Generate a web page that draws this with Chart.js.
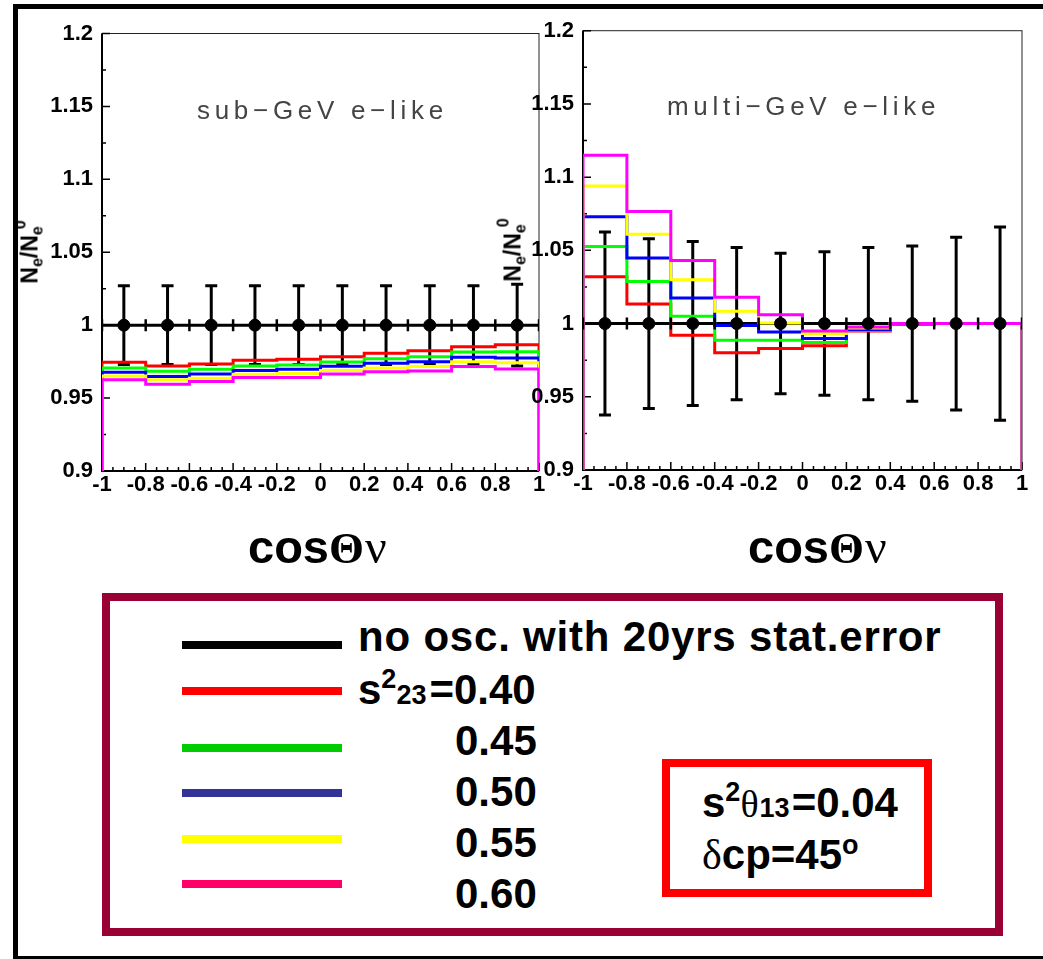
<!DOCTYPE html>
<html lang="en">
<head>
<meta charset="utf-8">
<title>Ne/Ne0 vs cosΘν</title>
<script src="https://cdn.jsdelivr.net/npm/chart.js@4.4.1/dist/chart.umd.min.js"></script>
<style>
  html, body { margin: 0; padding: 0; background: #fff; }
  body { position: relative; width: 1043px; height: 959px; overflow: hidden; font-family: "Liberation Sans", Arial, sans-serif; color: #000; }
  #outer { position: absolute; left: 13px; top: 4px; width: 1035px; height: 957px; border: 5px solid #000; box-sizing: border-box; }
  canvas { position: absolute; top: 0; }
  #cSub { left: 0; }
  #cMulti { left: 480px; }

  .ptitle { position: absolute; font-size: 26px; line-height: 26px; letter-spacing: 4.7px; color: #444; white-space: nowrap; }
  .ytitle { position: absolute; font-weight: bold; font-size: 23px; line-height: 23px; white-space: nowrap; transform: translate(-50%, -50%) rotate(-90deg); }
  .ytitle .lo { font-size: 16px; line-height: 0; position: relative; top: 5px; }
  .ytitle .hi { font-size: 16px; line-height: 0; position: relative; top: -12px; margin-left: -3px; }
  .xtitle { position: absolute; font-weight: bold; font-size: 47px; line-height: 47px; white-space: nowrap; }
  .xtitle .gr { font-family: "Liberation Serif", serif; font-size: 45px; line-height: 0; }
  .xtitle .nu { font-family: "Liberation Serif", serif; font-weight: normal; font-size: 48px; line-height: 0; margin-left: 1px; }

  #legend { position: absolute; left: 102px; top: 593px; width: 901px; height: 343px; border: 8px solid #990033; box-sizing: border-box; }
  #parbox { position: absolute; left: 662px; top: 759px; width: 270px; height: 138px; border: 8px solid #ff0000; box-sizing: border-box; }
  .swatch { position: absolute; left: 182px; width: 160px; height: 8px; }
  .lt { position: absolute; font-weight: bold; font-size: 42px; line-height: 42px; white-space: nowrap; }
  .lt .sm { font-size: 27px; line-height: 0; position: relative; }
  .lt .gr { font-family: "Liberation Serif", serif; font-weight: normal; line-height: 0; }
</style>
</head>
<body>
<div id="outer"></div>

<canvas id="cSub" width="560" height="530"></canvas>
<canvas id="cMulti" width="563" height="530"></canvas>

<div class="ptitle" style="left:197px; top:97px;">sub−GeV e−like</div>
<div class="ptitle" style="left:667px; top:93px;">multi−GeV e−like</div>

<div class="ytitle" style="left:30px; top:252px;">N<span class="lo">e</span>/N<span class="lo">e</span><span class="hi">0</span></div>
<div class="ytitle" style="left:513px; top:250px;">N<span class="lo">e</span>/N<span class="lo">e</span><span class="hi">0</span></div>

<div class="xtitle" style="left:248px; top:523px;">cos<span class="gr">Θ</span><span class="nu">ν</span></div>
<div class="xtitle" style="left:748px; top:523px;">cos<span class="gr">Θ</span><span class="nu">ν</span></div>

<div id="legend"></div>
<div id="parbox"></div>
<div id="legendRows"></div>
<div class="lt" style="left:702px; top:782px;">s<span class="sm" style="top:-16px">2</span><span class="gr" style="font-size:38px">θ</span><span class="sm" style="margin-left:1px">13</span><span style="margin-left:2px">=0.04</span></div>
<div class="lt" style="left:702px; top:834px;"><span class="gr" style="font-size:42px">δ</span>cp=45<span class="sm" style="top:-15px">o</span></div>

<script>
// bins in cosΘν
const binEdges   = [-1, -0.8, -0.6, -0.4, -0.2, 0, 0.2, 0.4, 0.6, 0.8, 1];
const binCenters = [-0.9, -0.7, -0.5, -0.3, -0.1, 0.1, 0.3, 0.5, 0.7, 0.9];
const yMin = 0.9, yMax = 1.2;

// no oscillation reference (ratio = 1 in every bin)
const noOscRatio = [1, 1, 1, 1, 1, 1, 1, 1, 1, 1];

// s^2_23 values and their colours (plot / legend swatch)
const s23Values    = ["0.40", "0.45", "0.50", "0.55", "0.60"];
const histColors   = ["#ff0000", "#00ff00", "#0000ff", "#ffff00", "#ff00ff"];
const swatchColors = ["#ff0000", "#00cc00", "#333399", "#ffff00", "#ff0066"];

// sub-GeV e-like
const subErr  = [0.027, 0.027, 0.027, 0.027, 0.027, 0.027, 0.027, 0.027, 0.027, 0.028];
const sub040  = [0.9745, 0.972, 0.9734, 0.976, 0.9766, 0.9784, 0.9807, 0.9825, 0.9852, 0.9866];
const sub045  = [0.9707, 0.9684, 0.9698, 0.972, 0.9727, 0.9748, 0.977, 0.9784, 0.9816, 0.9818];
const sub050  = [0.9677, 0.9648, 0.9666, 0.969, 0.9698, 0.9718, 0.9739, 0.975, 0.978, 0.9775];
const sub055  = [0.9652, 0.9625, 0.9636, 0.9664, 0.9668, 0.9689, 0.9707, 0.9716, 0.975, 0.9743];
const sub060  = [0.9625, 0.9595, 0.9614, 0.9641, 0.9641, 0.9666, 0.968, 0.9686, 0.9716, 0.970];

// multi-GeV e-like
const multiErr = [0.0625, 0.058, 0.056, 0.052, 0.048, 0.049, 0.052, 0.053, 0.059, 0.066];
const multi040 = [1.032, 1.0134, 0.992, 0.980, 0.983, 0.9848, 0.995, 0.9995, 1.0, 1.0];
const multi045 = [1.0527, 1.0288, 1.005, 0.9886, 0.9886, 0.987, 0.9955, 0.9996, 1.0, 1.0];
const multi050 = [1.073, 1.0447, 1.0175, 0.9986, 0.9943, 0.9898, 0.996, 0.9998, 1.0, 1.0];
const multi055 = [1.094, 1.061, 1.030, 1.0084, 1.0004, 0.9932, 0.997, 1.0, 1.0, 1.0];
const multi060 = [1.115, 1.0766, 1.043, 1.018, 1.006, 0.995, 0.9977, 1.0, 1.0, 1.0];

const yTickStep = 0.05, yMinorStep = 0.025;
const xTickStep = 0.2,  xMinorStep = 0.05;

Chart.defaults.font.family = "Liberation Sans";
Chart.defaults.color = '#000';

/* ---- legend rows (html) ---- */
(function buildLegend(){
  const rows = document.getElementById("legendRows");
  const swatchY = [641, 687, 743.5, 789, 834.5, 879.5];
  const textTop = [615.5, 668.5, 719.5, 770.5, 821.5, 872.5];
  let html = `<div class="swatch" style="top:${swatchY[0]}px;background:#000"></div>`;
  html += `<div class="lt" style="left:358px;top:${textTop[0]}px;letter-spacing:0.8px">no osc. with 20yrs stat.error</div>`;
  s23Values.forEach((v, i) => {
    html += `<div class="swatch" style="top:${swatchY[i+1]}px;background:${swatchColors[i]}"></div>`;
    if (i === 0) {
      html += `<div class="lt" style="left:358px;top:${textTop[1]}px">s<span class="sm" style="top:-16px">2</span><span class="sm">23</span><span style="margin-left:3px">=${v}</span></div>`;
    } else {
      html += `<div class="lt" style="left:455px;top:${textTop[i+1]}px">${v}</div>`;
    }
  });
  rows.innerHTML = html;
})();

// histogram outline: up from the axis minimum, steps across the bins, back down
function stepData(values){
  const last = binEdges.length - 1;
  const pts = [{x: binEdges[0], y: yMin}];
  values.forEach((v, i) => pts.push({x: binEdges[i], y: v}));
  pts.push({x: binEdges[last], y: values[values.length - 1]});
  pts.push({x: binEdges[last], y: yMin});
  return pts;
}

function refLine(values){
  const last = binEdges.length - 1;
  const pts = values.map((v, i) => ({x: binEdges[i], y: v}));
  pts.push({x: binEdges[last], y: values[values.length - 1]});
  return pts;
}

function errorData(values, errs){
  const pts = [];
  binCenters.forEach((c, i) => {
    pts.push({x: c, y: values[i] - errs[i]}, {x: c, y: values[i] + errs[i]}, {x: c, y: null});
  });
  return pts;
}

const fmtTick = v => String(Number(Number(v).toFixed(2)));

// axes + frame with inward ticks, drawn under the datasets
const rootFrame = {
  id: "rootFrame",
  beforeDatasetsDraw(chart){
    const {ctx, chartArea: a, scales: {x, y}} = chart;
    ctx.save();
    ctx.strokeStyle = "#222";
    ctx.lineWidth = 1;
    ctx.strokeRect(a.left, a.top, a.right - a.left, a.bottom - a.top);
    ctx.strokeStyle = "#000";
    ctx.lineWidth = 2;
    ctx.beginPath();
    ctx.moveTo(a.left, a.top); ctx.lineTo(a.left, a.bottom); ctx.lineTo(a.right, a.bottom);
    ctx.stroke();

    ctx.lineWidth = 1.5;
    ctx.beginPath();
    const nx = Math.round((x.max - x.min) / xMinorStep);
    const perX = Math.round(xTickStep / xMinorStep);
    for (let k = 0; k <= nx; k++){
      const px = x.getPixelForValue(x.min + k * xMinorStep);
      const len = k % perX === 0 ? 8 : 4;
      ctx.moveTo(px, a.bottom); ctx.lineTo(px, a.bottom - len);
    }
    const ny = Math.round((y.max - y.min) / yMinorStep);
    const perY = Math.round(yTickStep / yMinorStep);
    for (let k = 0; k <= ny; k++){
      const py = y.getPixelForValue(y.min + k * yMinorStep);
      const len = k % perY === 0 ? 8 : 4;
      ctx.moveTo(a.left, py); ctx.lineTo(a.left + len, py);
    }
    ctx.stroke();
    ctx.restore();
  }
};

function makePanel(canvasId, hists, errs, geom){
  const histSets = hists.map((vals, i) => ({
    data: stepData(vals),
    showLine: true, stepped: true,
    borderColor: histColors[i], borderWidth: 3,
    pointRadius: 0, fill: false,
  })).reverse(); // magenta ends up on top

  const datasets = [
    { // bin-edge ticks on the reference line
      data: binEdges.map((e, i) => ({x: e, y: noOscRatio[Math.min(i, noOscRatio.length - 1)]})),
      showLine: false, pointStyle: "line", pointRotation: 90,
      pointRadius: 6, pointBorderWidth: 2.5, pointBorderColor: "#000",
    },
    { // no-osc markers
      data: binCenters.map((c, i) => ({x: c, y: noOscRatio[i]})),
      showLine: false, pointStyle: "circle",
      pointRadius: 6, pointBackgroundColor: "#000", pointBorderColor: "#000", pointBorderWidth: 1,
    },
    ...histSets,
    { // no-osc histogram line
      data: refLine(noOscRatio),
      showLine: true, stepped: true, borderColor: "#000", borderWidth: 3, pointRadius: 0,
    },
    { // 20 yr statistical errors
      data: errorData(noOscRatio, errs),
      showLine: true, spanGaps: false, borderColor: "#000", borderWidth: 3,
      pointStyle: "line", pointRadius: 6, pointBorderWidth: 3, pointBorderColor: "#000",
    },
  ];

  const tickFont = {family: "Liberation Sans", size: 22, weight: 700, style: "normal"};
  return new Chart(document.getElementById(canvasId), {
    type: "scatter",
    data: {datasets},
    options: {
      responsive: false, animation: false, events: [],
      layout: {padding: {left: 0, top: geom.top, right: geom.right, bottom: 0}},
      plugins: {legend: {display: false}, tooltip: {enabled: false}},
      scales: {
        x: {
          type: "linear", min: -1, max: 1,
          grid: {display: false, drawTicks: false}, border: {display: false},
          ticks: {stepSize: xTickStep, autoSkip: false, maxRotation: 0, padding: 1, font: tickFont, color: "#000", callback: fmtTick},
          afterFit: s => { s.height = geom.xAxisH; },
        },
        y: {
          type: "linear", min: yMin, max: yMax,
          grid: {display: false, drawTicks: false}, border: {display: false},
          ticks: {stepSize: yTickStep, autoSkip: false, padding: 9, font: tickFont, color: "#000", callback: fmtTick},
          afterFit: s => { s.width = geom.yAxisW; },
        },
      },
    },
    plugins: [rootFrame],
  });
}

makePanel("cSub",   [sub040, sub045, sub050, sub055, sub060],
          subErr,   {top: 33.5, right: 21, xAxisH: 59, yAxisW: 102});
makePanel("cMulti", [multi040, multi045, multi050, multi055, multi060],
          multiErr, {top: 30.7, right: 21, xAxisH: 60, yAxisW: 103});
</script>
</body>
</html>
